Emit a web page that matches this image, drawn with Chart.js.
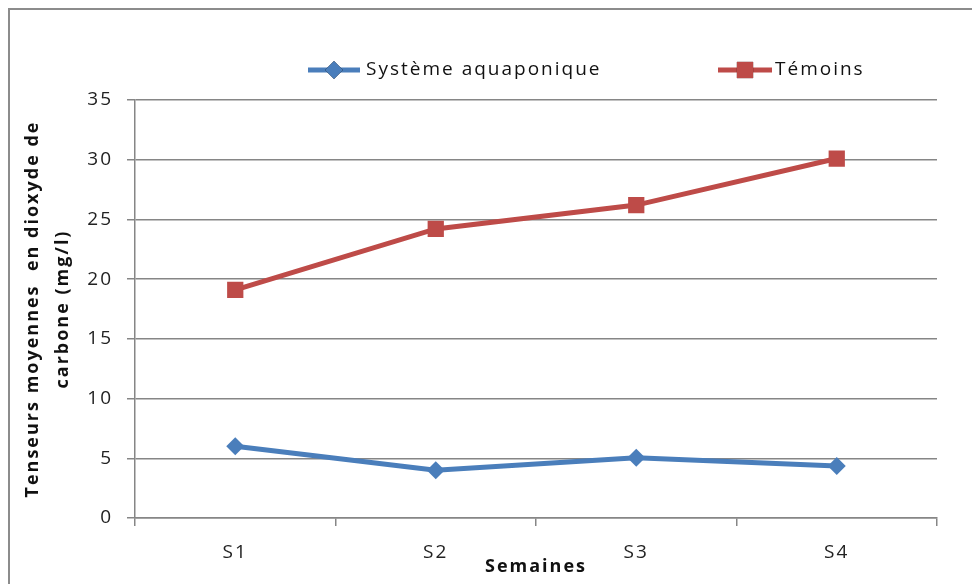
<!DOCTYPE html>
<html>
<head>
<meta charset="utf-8">
<script src="https://cdn.jsdelivr.net/npm/chart.js@4"></script>
<style>
  html, body { margin: 0; padding: 0; background: #fff; overflow: hidden; }
  #wrap { width: 972px; height: 584px; }
</style>
</head>
<body>
<div id="wrap"><canvas id="co2Chart" width="972" height="584"></canvas></div>
<script>
// Data
const weeks = ['S1', 'S2', 'S3', 'S4'];
const aquaponic = [6.0, 4.0, 5.05, 4.35];
const controls = [19.1, 24.2, 26.2, 30.1];
const yTicks = [0, 5, 10, 15, 20, 25, 30, 35];

const FONT = "'Open Sans', sans-serif";

// Excel-style legend: line sample with marker in the middle
const legendPlugin = {
    id: 'excelLegend',
    afterDraw(chart) {
        const ctx = chart.ctx;
        const items = [
            { x0: 308, x1: 360, tx: 366 },
            { x0: 718, x1: 772, tx: 775 }
        ];
        const y = 70;
        chart.data.datasets.forEach((ds, i) => {
            const it = items[i];
            ctx.save();
            ctx.strokeStyle = ds.borderColor;
            ctx.lineWidth = ds.borderWidth;
            ctx.beginPath();
            ctx.moveTo(it.x0, y);
            ctx.lineTo(it.x1, y);
            ctx.stroke();
            Chart.helpers.drawPoint(ctx, {
                pointStyle: ds.pointStyle,
                radius: ds.pointRadius,
                borderWidth: 0
            }, (it.x0 + it.x1) / 2, y);
            ctx.fillStyle = ds.backgroundColor;
            ctx.fill();
            ctx.fillStyle = '#111';
            ctx.font = '19px ' + FONT;
            ctx.textBaseline = 'middle';
            ctx.fillText(ds.label, it.tx, y);
            ctx.restore();
        });
    }
};

// Grey frame round the chart, and the wide letter spacing of the original
const framePlugin = {
    id: 'frame',
    beforeDraw(chart) {
        const ctx = chart.ctx;
        ctx.letterSpacing = '2px';
        ctx.save();
        ctx.strokeStyle = '#8c8c8c';
        ctx.lineWidth = 2;
        ctx.strokeRect(9, 9, 1000, 1000);
        ctx.restore();
    }
};

const ctx = document.getElementById('co2Chart').getContext('2d');
new Chart(ctx, {
    type: 'line',
    data: {
        labels: weeks,
        datasets: [{
            label: 'Système aquaponique',
            data: aquaponic,
            borderColor: '#4A7EBB',
            backgroundColor: '#4A7EBB',
            borderWidth: 5,
            pointStyle: 'rectRot',
            pointRadius: 9,
            pointBorderWidth: 0,
            tension: 0
        }, {
            label: 'Témoins',
            data: controls,
            borderColor: '#BE4B48',
            backgroundColor: '#BE4B48',
            borderWidth: 5,
            pointStyle: 'rect',
            pointRadius: 11.5,
            pointBorderWidth: 0,
            tension: 0
        }]
    },
    options: {
        responsive: false,
        animation: false,
        devicePixelRatio: 1,
        layout: { padding: { top: 100, right: 35, left: 0, bottom: 0 } },
        plugins: {
            legend: { display: false },
            tooltip: { enabled: false }
        },
        scales: {
            x: {
                offset: true,
                grid: {
                    offset: true,
                    drawOnChartArea: false,
                    drawTicks: true,
                    tickLength: 8,
                    color: '#868686',
                    lineWidth: 1.5
                },
                border: { color: '#868686', width: 1.5 },
                ticks: { color: '#222', font: { family: FONT, size: 19 }, padding: 15 },
                title: {
                    display: true,
                    text: 'Semaines',
                    color: '#111',
                    font: { family: FONT, size: 18, weight: 'bold' },
                    padding: { top: -10, bottom: 6 }
                },
                afterFit(scale) { scale.height = 66; }
            },
            y: {
                min: 0,
                max: 35,
                afterBuildTicks(scale) { scale.ticks = yTicks.map(v => ({ value: v })); },
                grid: {
                    color: '#868686',
                    lineWidth: 1.5,
                    drawTicks: true,
                    tickLength: 8
                },
                border: { color: '#868686', width: 1.5 },
                ticks: { color: '#222', font: { family: FONT, size: 19 }, padding: 14 },
                title: {
                    display: true,
                    text: ['Tenseurs moyennes  en dioxyde de', 'carbone (mg/l)'],
                    color: '#111',
                    font: { family: FONT, size: 18, weight: 'bold', lineHeight: 1.67 },
                    padding: { top: 18, bottom: 0 }
                },
                afterFit(scale) { scale.width = 135; }
            }
        }
    },
    plugins: [framePlugin, legendPlugin]
});
</script>
</body>
</html>
